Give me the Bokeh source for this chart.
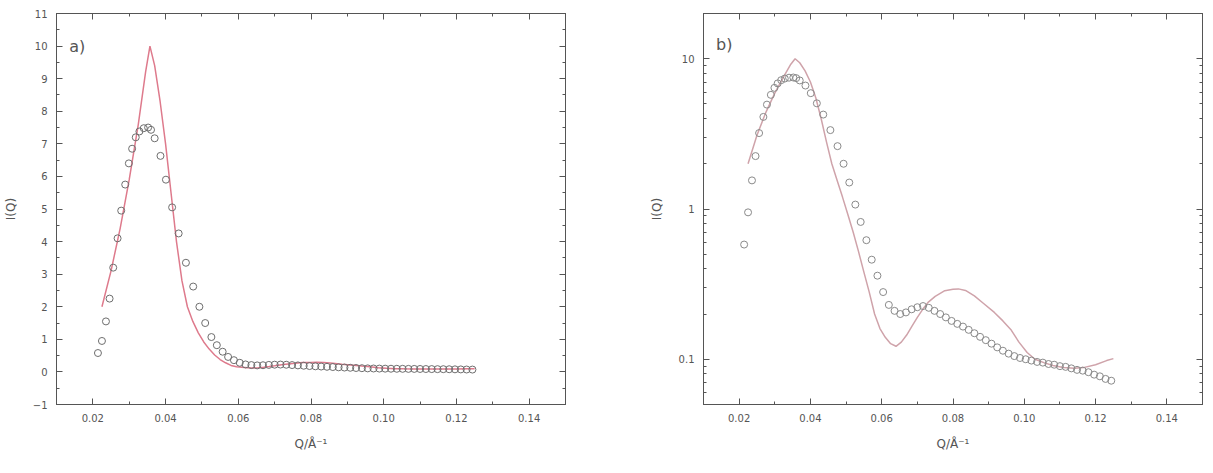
from bokeh.plotting import figure
from bokeh.layouts import row
from bokeh.models import LinearAxis, LogAxis, FixedTicker, CustomJSTickFormatter, Range1d
from bokeh.core.properties import value
from bokeh.embed import file_html
from bokeh.resources import INLINE

# measured data (open circles)
q_data = [0.0214, 0.0225, 0.0236, 0.0246, 0.0256, 0.0268, 0.0278, 0.0289, 0.0299, 0.0308,
          0.0318, 0.0328, 0.0340, 0.0352, 0.0360, 0.0370, 0.0386, 0.0401, 0.0418, 0.0436,
          0.0456, 0.0476, 0.0493, 0.0509, 0.0526, 0.0541, 0.0557, 0.0572, 0.0588, 0.0604,
          0.0620, 0.0636, 0.0652, 0.0668, 0.0684, 0.0700, 0.0716, 0.0732, 0.0748, 0.0764,
          0.0780, 0.0796, 0.0812, 0.0828, 0.0844, 0.0860, 0.0876, 0.0892, 0.0908, 0.0924,
          0.0940, 0.0956, 0.0972, 0.0988, 0.1004, 0.1020, 0.1036, 0.1052, 0.1068, 0.1084,
          0.1100, 0.1116, 0.1132, 0.1148, 0.1164, 0.1180, 0.1196, 0.1212, 0.1228, 0.1244]
i_data = [0.58, 0.95, 1.55, 2.25, 3.2, 4.1, 4.95, 5.75, 6.4, 6.85,
          7.2, 7.38, 7.48, 7.5, 7.43, 7.17, 6.63, 5.9, 5.05, 4.25,
          3.35, 2.62, 2.0, 1.5, 1.07, 0.82, 0.62, 0.46, 0.36, 0.28,
          0.23, 0.21, 0.20, 0.205, 0.215, 0.222, 0.226, 0.22, 0.21, 0.20,
          0.19, 0.18, 0.172, 0.165, 0.157, 0.149, 0.141, 0.134, 0.127, 0.12,
          0.114, 0.109, 0.105, 0.102, 0.10, 0.098, 0.096, 0.095, 0.093, 0.092,
          0.09, 0.089, 0.087, 0.085, 0.084, 0.082, 0.079, 0.077, 0.074, 0.072]

# model curve (solid line)
q_fit = [0.0225, 0.0250, 0.0275, 0.0300, 0.0325, 0.0345, 0.0357, 0.0370, 0.0385, 0.0400,
         0.0415, 0.0430, 0.0445, 0.0460, 0.0475, 0.0490, 0.0505, 0.0520, 0.0535, 0.0550,
         0.0565, 0.0580, 0.0595, 0.0610, 0.0625, 0.0640, 0.0655, 0.0670, 0.0685, 0.0700,
         0.0715, 0.0730, 0.0750, 0.0777, 0.0800, 0.0815, 0.0835, 0.0860, 0.0885, 0.0916,
         0.0940, 0.0962, 0.0985, 0.1008, 0.1030, 0.1055, 0.1080, 0.1110, 0.1140, 0.1166,
         0.1200, 0.1231, 0.1250]
i_fit = [2.0, 3.1, 4.4, 5.9, 7.6, 9.2, 10.0, 9.4, 8.3, 7.0,
         5.5, 4.0, 2.8, 2.0, 1.55, 1.2, 0.92, 0.7, 0.52, 0.38,
         0.28, 0.2, 0.16, 0.14, 0.127, 0.122, 0.13, 0.145, 0.166, 0.19,
         0.215, 0.239, 0.262, 0.286, 0.292, 0.294, 0.287, 0.264, 0.236, 0.205,
         0.18, 0.158, 0.13, 0.111, 0.10, 0.095, 0.091, 0.088, 0.087, 0.088,
         0.092, 0.098, 0.101]

x_ticks = [0.02, 0.04, 0.06, 0.08, 0.10, 0.12, 0.14]
x_minor = [0.01, 0.03, 0.05, 0.07, 0.09, 0.11, 0.13, 0.15]
ya_ticks = [-1, 0, 1, 2, 3, 4, 5, 6, 7, 8, 9, 10, 11]
ya_minor = [-0.5, 0.5, 1.5, 2.5, 3.5, 4.5, 5.5, 6.5, 7.5, 8.5, 9.5, 10.5]
yb_ticks = [0.1, 1, 10]
yb_minor = [0.05, 0.06, 0.07, 0.08, 0.09, 0.2, 0.3, 0.4, 0.5, 0.6, 0.7, 0.8, 0.9,
            2, 3, 4, 5, 6, 7, 8, 9, 20]

FONT = "DejaVu Sans"
AX = "#555555"
TXT = "#555555"


def style_axis(ax, ticker, show_labels=True):
    ax.ticker = ticker
    ax.axis_line_color = AX
    ax.major_tick_line_color = AX
    ax.minor_tick_line_color = AX
    ax.major_tick_in = 6
    ax.major_tick_out = 0
    ax.minor_tick_in = 3
    ax.minor_tick_out = 0
    ax.major_label_text_font = FONT
    ax.major_label_text_color = TXT
    ax.major_label_text_font_size = "10px"
    ax.major_label_standoff = 9 if show_labels else 0
    if not show_labels:
        ax.formatter = CustomJSTickFormatter(code="return '';")
    ax.axis_label_text_font = FONT
    ax.axis_label_text_font_style = "normal"
    ax.axis_label_text_color = TXT
    ax.axis_label_text_font_size = "12px"
    ax.axis_label_standoff = 12


def make_panel(log, width, bl, br, bt, bb, yrange, yt, ym, label, label_y, line_color, circ_color):
    p = figure(width=width, height=458, output_backend="svg", toolbar_location=None,
               x_range=Range1d(0.01, 0.15), y_range=Range1d(*yrange),
               y_axis_type="log" if log else "linear",
               min_border_left=bl, min_border_right=br, min_border_top=bt, min_border_bottom=bb)
    p.grid.visible = False
    p.outline_line_color = AX
    p.background_fill_color = "white"
    p.border_fill_color = "white"
    style_axis(p.xaxis[0], FixedTicker(ticks=x_ticks, minor_ticks=x_minor))
    p.xaxis[0].formatter = CustomJSTickFormatter(code="return tick.toFixed(2);")
    style_axis(p.yaxis[0], FixedTicker(ticks=yt, minor_ticks=ym))
    if log:
        p.yaxis[0].formatter = CustomJSTickFormatter(code="return String(tick);")
    p.xaxis[0].axis_label = "Q/Å⁻¹"
    p.yaxis[0].axis_label = "I(Q)"
    top = LinearAxis()
    style_axis(top, FixedTicker(ticks=x_ticks, minor_ticks=x_minor), show_labels=False)
    p.add_layout(top, "above")
    right = LogAxis() if log else LinearAxis()
    style_axis(right, FixedTicker(ticks=yt, minor_ticks=ym), show_labels=False)
    p.add_layout(right, "right")

    p.line(q_fit, i_fit, line_color=line_color, line_width=1.5)
    p.scatter(q_data, i_data, marker="circle", size=7, fill_color=None,
              line_color=circ_color, line_width=1)
    p.text(x=[0.0135], y=[label_y], text=[label], text_font=value(FONT),
           text_font_size="16px", text_color=TXT, text_baseline="middle", text_align="left")
    return p


pa = make_panel(False, 595, 55, 30, 11, 54, (-1, 11), ya_ticks, ya_minor, "a)", 10.0,
                "#de7a8c", "#6e6e6e")
pb = make_panel(True, 610, 108, 3, 13, 52, (0.05, 20), yb_ticks, yb_minor, "b)", 12.4,
                "#cfa3aa", "#8a8a8a")

layout = row(pa, pb)
open("out.html", "w").write(file_html(layout, INLINE))
